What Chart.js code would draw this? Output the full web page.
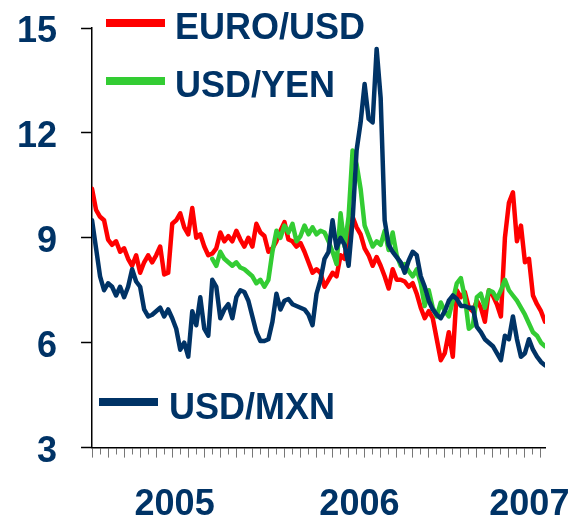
<!DOCTYPE html>
<html>
<head>
<meta charset="utf-8">
<script src="https://cdn.jsdelivr.net/npm/chart.js@4.4.1/dist/chart.umd.min.js"></script>
<style>
  html, body { margin: 0; padding: 0; background: #fff; }
</style>
</head>
<body>
<canvas id="fx" width="572" height="520"></canvas>
<script>
// series names, in legend order
const seriesNames = ['EURO/USD', 'USD/YEN', 'USD/MXN']

// volatility readings, one per sample
const euroUsd = [
  10.4, 9.8, 9.6, 9.5, 8.95, 8.8, 8.9, 8.6, 8.7, 8.4,
  8.2, 8.5, 8.0, 8.3, 8.5, 8.3, 8.5, 8.75, 7.95, 8.0,
  9.4, 9.5, 9.7, 9.3, 9.1, 9.85, 9.0, 9.1, 8.75, 8.5,
  8.55, 8.7, 9.15, 8.9, 9.05, 8.9, 9.2, 8.95, 8.75, 9.0,
  8.75, 9.4, 9.15, 9.05, 8.6, 8.7, 8.9, 9.2, 9.45, 8.95,
  8.9, 8.75, 8.85, 8.6, 8.3, 8.0, 8.1, 8.0, 7.6, 7.8,
  8.0, 7.9, 8.5, 8.4, 9.2, 9.6, 9.3, 9.1, 8.7, 8.5,
  8.2, 8.45, 8.2, 7.9, 7.55, 8.1, 7.8, 7.8, 7.75, 7.6,
  7.7, 7.4, 7.0, 6.7, 6.9, 6.7, 6.1, 5.5, 5.7, 6.3,
  5.6, 7.5, 7.3, 7.45, 7.0, 6.9, 7.2, 7.0, 6.6, 7.5,
  7.35, 7.1, 6.75, 9.0, 10.0, 10.3, 8.9, 9.35, 8.3, 8.4,
  7.35, 7.1, 6.9, 6.6
]

const usdYen = [
  null, null, null, null, null, null, null, null, null, null,
  null, null, null, null, null, null, null, null, null, null,
  null, null, null, null, null, null, null, null, null, null,
  8.4, 8.2, 8.6, 8.4, 8.3, 8.2, 8.3, 8.15, 8.1, 8.0,
  7.9, 7.7, 7.8, 7.6, 7.8, 8.6, 9.2, 9.0, 9.35, 9.15,
  9.4, 8.9, 9.05, 9.35, 9.1, 9.3, 9.1, 9.2, 9.15, 8.9,
  8.6, 8.25, 9.7, 8.75, 9.6, 11.5, 11.1, 10.4, 9.35, 9.05,
  8.75, 8.9, 8.8, 9.2, 8.65, 9.15, 8.5, 8.2, 8.25, 8.05,
  7.9, 8.1, 7.7, 7.05, 7.5, 7.0, 6.75, 7.15, 6.9, 6.75,
  7.2, 7.7, 7.85, 7.3, 6.4, 6.5, 7.3, 7.4, 7.0, 7.5,
  7.45, 7.25, 7.5, 7.8, 7.5, 7.35, 7.2, 7.0, 6.8, 6.55,
  6.3, 6.2, 6.0, 5.9
]

const usdMxn = [
  9.5, 8.7, 7.9, 7.5, 7.7, 7.6, 7.35, 7.6, 7.3, 7.6,
  8.1, 7.75, 7.6, 6.95, 6.75, 6.8, 6.9, 7.0, 6.75, 6.95,
  6.7, 6.4, 5.8, 6.0, 5.6, 6.9, 6.5, 7.3, 6.4, 6.2,
  7.8, 7.6, 6.7, 6.95, 7.1, 6.7, 7.3, 7.5, 7.45, 7.2,
  6.75, 6.3, 6.05, 6.05, 6.1, 6.6, 7.4, 6.95, 7.2, 7.25,
  7.1, 7.05, 7.0, 6.95, 6.8, 6.5, 7.4, 7.8, 8.4, 8.6,
  9.5, 8.7, 9.0, 8.8, 8.2, 9.5, 11.5, 12.3, 13.4, 12.4,
  12.3, 14.4, 13.0, 9.5, 8.8, 8.6, 8.45, 8.3, 8.0, 8.35,
  8.6, 8.5, 7.9, 7.6, 7.2, 6.95, 6.8, 6.7, 6.9, 7.2,
  7.35, 7.25, 7.05, 7.05, 7.0, 7.0, 6.45, 6.3, 6.1, 6.0,
  5.9, 5.7, 5.5, 6.2, 6.1, 6.75, 6.1, 5.6, 5.7, 6.1,
  5.8, 5.6, 5.45, 5.35
]

// year labels and where they sit, in sample units
const yearLabels = ['2005', '2006', '2007']
const yearPos = [20.6, 66.7, 109.1]
const yTicks = [3, 6, 9, 12, 15]

const NAVY = '#003366'
const FONT = '"Liberation Sans", Arial, sans-serif'
const last = euroUsd.length - 1

function pts(values) {
  return values.map((v, i) => ({x: i, y: v}))
}

function isYear(tick) {
  return tick && yearPos.indexOf(tick.value) >= 0
}

// the legend is split round the plot, so draw it by hand
const cornerLegend = {
  id: 'cornerLegend',
  afterDraw(chart) {
    const c = chart.ctx
    const spots = [
      {x0: 106, x1: 165, y: 23, tx: 175, ty: 39},
      {x0: 106, x1: 165, y: 81, tx: 175, ty: 97},
      {x0: 99, x1: 158, y: 402, tx: 169, ty: 419}
    ]
    c.save()
    c.font = 'bold 36px ' + FONT
    c.textBaseline = 'alphabetic'
    c.textAlign = 'left'
    spots.forEach((s, i) => {
      const ds = chart.data.datasets.find(d => d.label === seriesNames[i])
      c.strokeStyle = ds.borderColor
      c.lineWidth = 8
      c.beginPath()
      c.moveTo(s.x0, s.y)
      c.lineTo(s.x1, s.y)
      c.stroke()
      c.fillStyle = NAVY
      c.fillText(seriesNames[i], s.tx, s.ty)
    })
    c.restore()
  }
}

new Chart(document.getElementById('fx'), {
  type: 'line',
  data: {
    datasets: [
      {label: seriesNames[0], data: pts(euroUsd), borderColor: '#ff0000', order: 3},
      {label: seriesNames[1], data: pts(usdYen), borderColor: '#33cc33', order: 2},
      {label: seriesNames[2], data: pts(usdMxn), borderColor: NAVY, order: 1}
    ]
  },
  options: {
    responsive: false,
    animation: false,
    // negative padding makes up for the doubled tick padding in the axis fit
    layout: {padding: {left: -7, top: 28, right: 27, bottom: -33}},
    elements: {
      line: {borderWidth: 4.5, tension: 0, borderJoinStyle: 'round', borderCapStyle: 'round', fill: false},
      point: {radius: 0, hoverRadius: 0}
    },
    plugins: {legend: {display: false}, tooltip: {enabled: false}},
    scales: {
      x: {
        type: 'linear',
        min: 0,
        max: last,
        // small marks every 2 samples, plus the year label positions
        afterBuildTicks: s => {
          const t = []
          for (let v = 0; v <= last; v += 2) t.push({value: v})
          yearPos.forEach(v => t.push({value: v}))
          t.sort((a, b) => a.value - b.value)
          s.ticks = t
        },
        ticks: {
          autoSkip: false,
          maxRotation: 0,
          padding: 0,
          color: NAVY,
          font: {family: FONT, size: 36, weight: 'bold', lineHeight: 2.65},
          callback: v => {
            const k = yearPos.indexOf(v)
            return k >= 0 ? yearLabels[k] : ''
          }
        },
        grid: {
          drawOnChartArea: false,
          tickLength: 10,
          tickWidth: 1,
          tickColor: ctx => isYear(ctx.tick) ? 'rgba(0,0,0,0)' : '#777',
          tickBorderDash: ctx => (ctx.tick && ctx.tick.value % 4 === 2) ? [6, 100] : []
        },
        border: {display: true, color: '#000', width: 1.5}
      },
      y: {
        min: 3,
        max: 15,
        afterBuildTicks: s => { s.ticks = yTicks.map(v => ({value: v})) },
        ticks: {
          padding: 24,
          labelOffset: 4,
          color: NAVY,
          font: {family: FONT, size: 36, weight: 'bold', lineHeight: 0.2}
        },
        grid: {drawOnChartArea: false, tickLength: 11, tickColor: '#000', tickWidth: 1.5},
        border: {color: '#000', width: 1.5}
      }
    }
  },
  plugins: [cornerLegend]
})
</script>
</body>
</html>
